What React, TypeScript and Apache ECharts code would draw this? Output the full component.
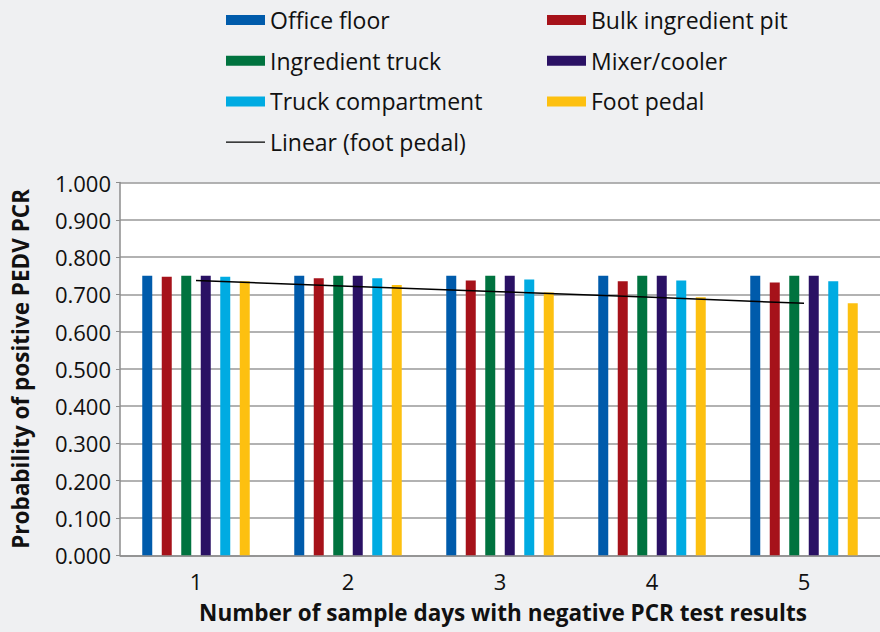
import React, { useEffect, useRef } from "react";
import * as echarts from "echarts";

const categories = ["1", "2", "3", "4", "5"];
const officeFloor = [0.75, 0.75, 0.75, 0.75, 0.75];
const bulkPit = [0.747, 0.743, 0.737, 0.735, 0.732];
const ingredientTruck = [0.75, 0.75, 0.75, 0.75, 0.75];
const mixerCooler = [0.75, 0.75, 0.75, 0.75, 0.75];
const truckCompartment = [0.747, 0.743, 0.74, 0.737, 0.735];
const footPedal = [0.735, 0.725, 0.705, 0.692, 0.676];
const linearFootPedal = [0.737, 0.722, 0.707, 0.692, 0.676];

const FONT = "Open Sans";

export default function App() {
  const ref = useRef<HTMLDivElement>(null);
  useEffect(() => {
    document.body.style.margin = "0";
    const chart = echarts.init(ref.current!, undefined, { renderer: "svg" });
    const bar = (name: string, data: number[], color: string) => ({
      name,
      type: "bar",
      data,
      barWidth: 10,
      barGap: "95%",
      itemStyle: { color },
      z: 2,
    });
    const legendText = { fontFamily: FONT, fontSize: 23, color: "#111", lineHeight: 26 };
    chart.setOption({
      animation: false,
      backgroundColor: "#eff0f2",
      textStyle: { fontFamily: FONT },
      legend: [
        {
          orient: "vertical",
          left: 226,
          top: 7,
          padding: 0,
          itemWidth: 39,
          itemHeight: 10,
          itemGap: 14.7,
          textStyle: legendText,
          data: [
            { name: "Office floor", icon: "rect" },
            { name: "Ingredient truck", icon: "rect" },
            { name: "Truck compartment", icon: "rect" },
            { name: "Linear (foot pedal)", icon: "path://M0,0H40V0.01H0Z M0,4.3H40V5.7H0Z M0,9.99H40V10H0Z" },
          ],
        },
        {
          orient: "vertical",
          left: 547,
          top: 7,
          padding: 0,
          itemWidth: 39,
          itemHeight: 10,
          itemGap: 14.7,
          textStyle: legendText,
          data: [
            { name: "Bulk ingredient pit", icon: "rect" },
            { name: "Mixer/cooler", icon: "rect" },
            { name: "Foot pedal", icon: "rect" },
          ],
        },
      ],
      grid: {
        left: 120,
        top: 182.5,
        right: 0,
        bottom: 76.7,
        show: true,
        backgroundColor: "#ffffff",
        borderWidth: 0,
        containLabel: false,
        outerBoundsMode: "none",
      },
      xAxis: {
        type: "category",
        data: categories,
        name: "Number of sample days with negative PCR test results",
        nameLocation: "middle",
        nameGap: 46,
        nameTextStyle: { fontFamily: FONT, fontSize: 22.5, fontWeight: "bold", color: "#111", padding: [0, 0, 0, 6] },
        axisLine: { show: true, lineStyle: { color: "#8c8c8c", width: 1.5 } },
        axisTick: { show: false },
        axisLabel: { fontFamily: FONT, fontSize: 22, color: "#111", margin: 15 },
        splitLine: { show: false },
      },
      yAxis: {
        type: "value",
        min: 0,
        max: 1,
        interval: 0.1,
        name: "Probability of positive PEDV PCR",
        nameLocation: "middle",
        nameGap: 88,
        nameTextStyle: { fontFamily: FONT, fontSize: 22.5, fontWeight: "bold", color: "#111" },
        axisLine: { show: true, lineStyle: { color: "#8c8c8c", width: 1.5 } },
        axisTick: { show: true, length: 4, lineStyle: { color: "#8c8c8c" } },
        axisLabel: {
          fontFamily: FONT,
          fontSize: 22,
          color: "#111",
          margin: 9,
          formatter: (v: number) => v.toFixed(3),
        },
        splitLine: { show: true, lineStyle: { color: "#999999", width: 1.5 } },
      },
      series: [
        bar("Office floor", officeFloor, "#005bab"),
        bar("Bulk ingredient pit", bulkPit, "#a6121a"),
        bar("Ingredient truck", ingredientTruck, "#00733f"),
        bar("Mixer/cooler", mixerCooler, "#2a1164"),
        bar("Truck compartment", truckCompartment, "#00abe2"),
        bar("Foot pedal", footPedal, "#fdc010"),
        {
          name: "Linear (foot pedal)",
          type: "line",
          data: linearFootPedal,
          symbol: "none",
          itemStyle: { color: "#000" },
          lineStyle: { color: "#000", width: 1.5 },
          z: 5,
        },
      ],
    });
    return () => chart.dispose();
  }, []);
  return (
    <div
      ref={ref}
      style={{ position: "absolute", left: 0, top: 0, width: 880, height: 632 }}
    />
  );
}
